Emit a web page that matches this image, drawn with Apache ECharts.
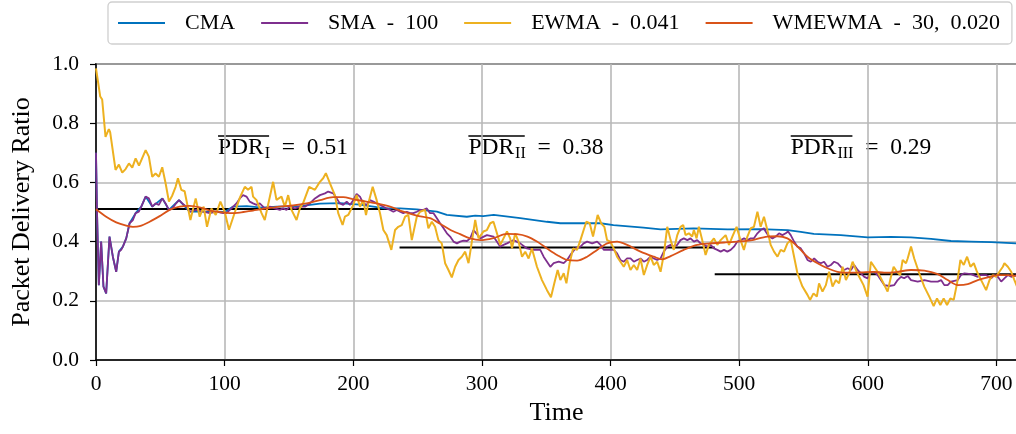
<!DOCTYPE html>
<html><head><meta charset="utf-8">
<script src="https://cdn.jsdelivr.net/npm/echarts@6/dist/echarts.min.js"></script>
<style>html,body{margin:0;padding:0;background:#fff}#c{width:1016px;height:434px}</style>
</head><body><div id="c"></div>
<script>
const seriesNames = ['CMA', 'SMA\u2002-\u2002100', 'EWMA\u2002-\u20020.041', 'WMEWMA\u2002-\u200230,\u20020.020'];
const seriesColors = ['#0072BD', '#7E2F8E', '#EDB120', '#D95319'];

const cma = [[0,0.7],[0.8,0.5],[2.2,0.253],[4,0.4],[5.8,0.248],[7.9,0.225],[10.5,0.417],[13.1,0.349],[15.7,0.298],[17.8,0.366],[20.9,0.383],[23.5,0.411],[26.1,0.462],[30.8,0.496],[35.2,0.518],[38.6,0.552],[43.8,0.518],[51.6,0.546],[56.7,0.507],[64.5,0.54],[72.8,0.501],[83.2,0.501],[93.6,0.501],[100,0.5],[106.3,0.518],[117.2,0.52],[128.9,0.515],[140.6,0.518],[158.5,0.52],[174.1,0.528],[189.6,0.53],[205.2,0.525],[224.7,0.512],[236.4,0.512],[249.4,0.509],[265,0.501],[272.7,0.49],[288.3,0.484],[294.8,0.488],[301,0.486],[309.2,0.49],[329.8,0.479],[350.6,0.467],[361,0.462],[392.1,0.462],[402.3,0.456],[425.6,0.447],[438.9,0.441],[464.6,0.445],[491,0.441],[516.7,0.442],[537.8,0.439],[547.9,0.433],[558,0.426],[579,0.422],[600,0.414],[618,0.416],[633.6,0.414],[649.2,0.409],[664.7,0.402],[680.3,0.4],[695.9,0.398],[716,0.394]];

const sma = [[0,0.7],[0.8,0.5],[2.2,0.253],[4,0.4],[5.8,0.248],[7.9,0.225],[10.5,0.417],[13.1,0.349],[15.7,0.298],[17.8,0.366],[19.6,0.372],[20.9,0.383],[23.5,0.411],[26.1,0.462],[28.7,0.473],[30.8,0.496],[33.3,0.501],[35.2,0.518],[38.6,0.552],[41.1,0.546],[43.8,0.518],[46.3,0.529],[48.9,0.524],[51.6,0.546],[54.1,0.529],[56.7,0.507],[59.3,0.512],[61.9,0.527],[64.5,0.54],[67.1,0.529],[70.2,0.518],[72.8,0.501],[78,0.507],[83.2,0.501],[88.4,0.496],[93.6,0.501],[98.8,0.496],
[101.4,0.496],[105.3,0.512],[109.2,0.529],[111.8,0.546],[114.3,0.557],[117,0.552],[119.5,0.535],[122.1,0.529],[124.8,0.524],[127.3,0.529],[131.2,0.512],[135.1,0.518],[139,0.512],[142.9,0.507],[145.5,0.512],[148.1,0.507],[150.7,0.518],[154.6,0.512],[158.5,0.518],[162.4,0.518],[166.3,0.529],[170.2,0.546],[174.1,0.557],[178,0.563],[180.5,0.569],[184.4,0.563],[187.1,0.546],[189.6,0.529],[192.2,0.524],[194.9,0.535],[197.4,0.524],[200,0.54],[202.6,0.561],
[205.2,0.552],[207.8,0.529],[210.4,0.524],[213,0.54],[215.6,0.535],[218.2,0.529],[220.8,0.524],[223.4,0.518],[226,0.512],[228.6,0.507],[231.2,0.501],[233.8,0.507],[236.4,0.501],[238.9,0.496],[241.6,0.501],[244.2,0.496],[246.7,0.496],[249.4,0.501],[251.9,0.507],[254.6,0.507],[257.2,0.512],[259.7,0.496],[262.4,0.496],[265,0.479],[267.5,0.462],[270.2,0.445],[272.8,0.428],[275.3,0.417],[277.9,0.4],[280.6,0.394],[283.1,0.4],[285.7,0.403],[288.4,0.402],[290.9,0.411],[293.5,0.439],[295.6,0.428],[298.7,0.411],
[303.9,0.422],[309,0.417],[314.3,0.383],[316.8,0.389],[319.5,0.394],[324.6,0.405],[329.8,0.394],[335,0.377],[340.2,0.372],[345.4,0.372],[348,0.349],[350.6,0.332],[353.2,0.315],[355.8,0.327],[359.7,0.332],[363.6,0.327],[366.2,0.338],[368.8,0.355],[372.7,0.377],[376.6,0.383],[379.1,0.394],[381.8,0.4],[385.7,0.394],[389.6,0.4],[392.2,0.389],[394.7,0.372],[398.6,0.372],[402.5,0.372],[405.1,0.36],[407.7,0.338],[410.3,0.332],[412.9,0.343],[415.5,0.343],[418.1,0.332],[420.7,0.338],[423.3,0.343],[425.9,0.332],[428.5,0.338],[431.1,0.349],[433.6,0.343],[436.3,0.338],[438.9,0.343],[441.4,0.366],[444.1,0.383],[446.7,0.389],[449.2,0.383],[451.9,0.389],[454.4,0.405],[457,0.411],[459.7,0.405],[462.2,0.411],[464.8,0.4],[467.4,0.405],[470,0.394],[472.6,0.389],[475.2,0.383],[477.8,0.389],[480.4,0.377],[483,0.372],[485.6,0.366],[488.2,0.372],[490.8,0.366],[493.4,0.372],[496,0.383],[498.6,0.4],[501.2,0.405],[503.8,0.411],[506.4,0.405],[509,0.411],[511.5,0.411],[514.2,0.428],[516.7,0.439],[519.3,0.445],[520.6,0.434],[523.2,0.417],[525.9,0.411],[528.4,0.417],[531,0.428],[533.6,0.422],[536.2,0.428],[538,0.434],[540.1,0.422],[542.7,0.4],[545.3,0.383],[547.9,0.377],[550.5,0.36],[553.1,0.338],[555.7,0.332],[558.3,0.343],[560.9,0.332],[563.5,0.327],[566,0.332],[568.7,0.315],[571.3,0.321],[573.9,0.332],[576.5,0.327],[579.1,0.315],[581.6,0.304],[584.3,0.31],[586.9,0.304],[589.4,0.321],[592.1,0.304],[594.7,0.293],[597.3,0.281],[599.9,0.276],[602.4,0.298],[605,0.298],[607.6,0.287],[610.2,0.27],[612.8,0.253],[616.7,0.25],[620.6,0.253],[623.2,0.27],[625.8,0.281],[628.3,0.276],[631,0.284],[633.6,0.27],[638.8,0.265],[644,0.27],[649.2,0.265],[654.4,0.265],[657,0.27],[659.5,0.253],[662.1,0.253],[664.7,0.265],[669.9,0.27],[672.5,0.287],[675.1,0.293],[680.3,0.29],[685.5,0.281],[688.1,0.287],[692,0.287],[695.9,0.276],[698.4,0.287],[701.1,0.281],[703.7,0.265],[706.2,0.276],[708.9,0.287],[711.5,0.281],[716,0.287]];

const ewma = [[0,0.985],[3.3,0.89],[4.8,0.88],[7.4,0.754],[10,0.78],[11,0.77],[15.2,0.642],[17.8,0.66],[20.4,0.633],[23,0.645],[25.6,0.664],[28.2,0.65],[30.8,0.681],[33.4,0.657],[38.6,0.709],[41.1,0.687],[43.7,0.619],[46.3,0.63],[48.9,0.619],[51.5,0.651],[54.1,0.597],[56.7,0.535],[59.3,0.556],[61.9,0.585],[63.7,0.614],[66.3,0.575],[68.9,0.57],[73.4,0.473],[77.5,0.546],[80.6,0.484],[83.7,0.518],[86.3,0.45],[89.7,0.512],[93.1,0.49],[96.7,0.535],[100.1,0.5],[103.4,0.44],[108,0.5],[112,0.55],
[115.7,0.585],[118.2,0.575],[120.9,0.585],[122.1,0.552],[124.8,0.54],[128.7,0.496],[131.2,0.473],[137.7,0.602],[140.3,0.541],[144.2,0.552],[146.8,0.518],[149.4,0.557],[152,0.507],[155.9,0.473],[158.5,0.513],[161,0.53],[165.7,0.585],[170.2,0.575],[174.1,0.602],[176.6,0.614],[178.7,0.631],[181.9,0.597],[185.7,0.557],[188.3,0.496],[191.7,0.456],[193.5,0.484],[196.1,0.49],[200,0.524],[202.6,0.557],
[205.2,0.518],[207.8,0.54],[209.9,0.49],[211.7,0.529],[215.1,0.585],[218.2,0.54],[220.8,0.496],[223.4,0.439],[226,0.422],[229.6,0.372],[232.5,0.439],[235,0.45],[237.7,0.456],[240.3,0.484],[242.8,0.49],[245.5,0.405],[249.4,0.484],[251.9,0.501],[255.8,0.507],[258.4,0.445],[261.1,0.467],[263.6,0.45],[266.2,0.405],[268.8,0.394],[271.4,0.327],[274,0.304],[276.6,0.279],[279.2,0.315],[281.8,0.338],[284.4,0.349],[287,0.366],[289.6,0.327],[292.2,0.4],[294.8,0.473],[297.4,0.411],[301.2,0.434],
[303.9,0.439],[306.5,0.462],[309,0.467],[311.7,0.428],[314.3,0.389],[316.8,0.411],[319.5,0.434],[322,0.411],[323.4,0.377],[325.9,0.428],[328.5,0.4],[331.2,0.349],[333.7,0.366],[336.3,0.343],[338.9,0.377],[342.8,0.315],[346.7,0.27],[350.6,0.236],[353.7,0.212],[356.3,0.259],[358.9,0.304],[361,0.27],[363.6,0.293],[365.7,0.259],[368.2,0.327],[370.9,0.377],[374,0.372],[376.6,0.405],[379.1,0.439],[381.2,0.467],[383.8,0.462],[386.4,0.417],[390,0.49],[392.7,0.462],[395.2,0.45],[397.3,0.405],[399.9,0.4],[402.5,0.377],[405.1,0.349],
[407.7,0.332],[410.3,0.315],[412.9,0.338],[415.5,0.304],[418.1,0.321],[420.7,0.304],[423.3,0.343],[425.9,0.287],[428.5,0.321],[431.1,0.349],[433.6,0.321],[436.3,0.332],[438.9,0.298],[441.4,0.355],[444.1,0.45],[446.7,0.405],[449.2,0.372],[451.9,0.422],[454.4,0.45],[456.5,0.456],[458.3,0.422],[460.9,0.428],[463.5,0.417],[464.8,0.439],[466.9,0.411],[468.7,0.45],[471.3,0.405],[473.9,0.355],[476.5,0.389],[480.4,0.411],[483,0.389],[485.6,0.405],[489.5,0.422],[492.1,0.389],[494.7,0.417],[498,0.45],[500.6,0.411],
[503.7,0.372],[506.4,0.417],[509,0.445],[511.5,0.45],[514.2,0.501],[516.7,0.45],[519.3,0.484],[521.9,0.439],[524.5,0.389],[527.1,0.366],[529.8,0.349],[532.3,0.372],[534.9,0.366],[537.5,0.394],[540.1,0.405],[542.7,0.349],[545.3,0.293],[549.2,0.248],[553.1,0.22],[555.1,0.203],[557.8,0.225],[560.4,0.214],[562.1,0.259],[564.8,0.231],[567.4,0.253],[569.9,0.298],[572.6,0.248],[575.2,0.27],[577.7,0.259],[580.4,0.315],[583,0.27],[585.5,0.293],[588.2,0.332],[590.8,0.304],[593.3,0.281],[596.7,0.253],[599.8,0.214],[602.4,0.332],
[605,0.315],[607.6,0.298],[611.5,0.265],[615.4,0.231],[618,0.281],[620.1,0.315],[622.7,0.298],[625.2,0.287],[627.1,0.338],[629.7,0.327],[631,0.343],[633.6,0.383],[636.1,0.343],[640,0.293],[643.9,0.248],[647.8,0.214],[651.2,0.182],[653.8,0.208],[656.4,0.186],[659,0.208],[661.6,0.186],[664.2,0.208],[666.8,0.203],[669.4,0.259],[672,0.338],[674.6,0.321],[677.2,0.349],[679.8,0.315],[682.4,0.327],[684.9,0.298],[686.8,0.281],[689.4,0.259],[692,0.236],[694.6,0.27],[697.2,0.287],[699.8,0.281],[702.3,0.298],[705,0.315],[706.2,0.327],[708.9,0.315],[711.5,0.298],[714,0.27],[716,0.248]];

const wmewma = [[0,0.509],[7.9,0.484],[15.7,0.465],[23.5,0.454],[28.7,0.45],[33.9,0.452],[41.7,0.467],[49.5,0.486],[57.2,0.507],[65,0.518],[72.8,0.521],[80.6,0.516],[88.4,0.505],[96.2,0.5],[104,0.496],[111.8,0.498],[122.1,0.505],[132.5,0.512],[142.9,0.518],[153.3,0.522],[163.7,0.529],[174.1,0.54],[184.4,0.55],[192.2,0.55],[200,0.543],[207.8,0.537],[218.2,0.529],[228.6,0.518],[238.9,0.501],[249.4,0.488],[259.7,0.479],[267.5,0.46],[275.3,0.44],[283.1,0.425],[290.9,0.411],[298.7,0.405],[309,0.412],[319.5,0.426],[327.3,0.425],[335.4,0.417],[342.8,0.4],[350.6,0.377],[358.4,0.355],[366.2,0.338],[374,0.336],[381.8,0.349],[389.6,0.372],[397.4,0.394],[405.1,0.4],[412.9,0.389],[423.3,0.366],[433.6,0.349],[440.2,0.34],[446.7,0.351],[457,0.372],[467.4,0.389],[477.8,0.394],[488.2,0.397],[498.6,0.4],[509,0.404],[521.9,0.417],[529.7,0.418],[537.5,0.411],[542.7,0.394],[547.9,0.372],[553.1,0.349],[560.9,0.327],[568.7,0.31],[576.5,0.298],[584.3,0.295],[594.6,0.296],[605,0.298],[612.7,0.295],[623.2,0.298],[633.6,0.304],[644,0.302],[654.4,0.29],[662.2,0.27],[670,0.253],[677.7,0.256],[685.5,0.27],[693.3,0.279],[701.1,0.287],[708.9,0.287],[716,0.284]];

const pdrMeans = [0.51, 0.38, 0.29];
const pdrBounds = [0, 236, 481, 716];
const pdrSubs = ['I', 'II', 'III'];
const pdrTexts = ['0.51', '0.38', '0.29'];
const xTicks = [0, 100, 200, 300, 400, 500, 600, 700];
const yTicks = [0.0, 0.2, 0.4, 0.6, 0.8, 1.0];

const FONT = '"Liberation Serif", "Times New Roman", serif';
const chart = echarts.init(document.getElementById('c'), null, {renderer: 'canvas'});

const mainData = [cma, sma, ewma, wmewma];
const series = [];
for (let i = 0; i < 3; i++) {
  series.push({
    type: 'line', name: 'mean' + i,
    data: [[pdrBounds[i], pdrMeans[i]], [pdrBounds[i + 1], pdrMeans[i]]],
    symbol: 'none', showSymbol: false, silent: true, z: 1,
    lineStyle: {color: '#000', width: 2}, animation: false
  });
}
mainData.forEach((d, i) => {
  series.push({
    type: 'line', name: seriesNames[i], data: d,
    symbol: 'none', showSymbol: false, z: 2,
    smooth: (i === 3) ? 0.3 : false,
    lineStyle: {color: seriesColors[i], width: i === 2 ? 2 : 1.8},
    itemStyle: {color: seriesColors[i]}, animation: false
  });
});

// annotations (text with overline)
const mctx = document.createElement('canvas').getContext('2d');
function measure(t, size) { mctx.font = size + 'px ' + FONT; return mctx.measureText(t).width; }
const annCenters = [283, 536, 861];
const annY = 147.5;
const graphics = [];
pdrSubs.forEach((sub, i) => {
  const bigSize = 23.5, smallSize = 16;
  const wP = measure('PDR', bigSize);
  const wS = measure(sub, smallSize);
  const rest = '\u2002=\u2002' + pdrTexts[i];
  const wR = measure(rest, bigSize);
  const total = wP + 1 + wS + wR;
  const x0 = annCenters[i] - total / 2;
  graphics.push({type: 'text', x: x0, y: annY, style: {text: 'PDR', font: bigSize + 'px ' + FONT, fill: '#000', align: 'left', verticalAlign: 'middle'}});
  graphics.push({type: 'text', x: x0 + wP + 1, y: annY + 6, style: {text: sub, font: smallSize + 'px ' + FONT, fill: '#000', align: 'left', verticalAlign: 'middle'}});
  graphics.push({type: 'text', x: x0 + wP + 1 + wS, y: annY, style: {text: rest, font: bigSize + 'px ' + FONT, fill: '#000', align: 'left', verticalAlign: 'middle'}});
  graphics.push({type: 'line', shape: {x1: x0, y1: annY - 11.5, x2: x0 + wP + wS, y2: annY - 11.5}, style: {stroke: '#000', lineWidth: 1.3}});
});

chart.setOption({
  backgroundColor: '#fff',
  animation: false,
  textStyle: {fontFamily: FONT},
  grid: {left: 96, right: -1, top: 64, bottom: 74, show: true, borderColor: '#000', borderWidth: 1.5, outerBoundsMode: 'none', containLabel: false},
  legend: {
    data: seriesNames, top: 2, left: 108,
    padding: [10, 12, 10, 10], borderColor: '#cfcfcf', borderWidth: 1.3, borderRadius: 4,
    icon: 'rect', itemWidth: 47, itemHeight: 2.2, itemGap: 26,
    textStyle: {fontFamily: FONT, fontSize: 22, color: '#000', padding: [0, 0, 0, 15]}
  },
  xAxis: {
    type: 'value', min: 0, max: 716, interval: 100,
    name: 'Time', nameLocation: 'middle', nameGap: 40,
    nameTextStyle: {fontFamily: FONT, fontSize: 26, color: '#000'},
    axisLine: {show: true, lineStyle: {color: '#000', width: 1.5}},
    axisTick: {show: true, length: 6, lineStyle: {color: '#000', width: 1.2}},
    axisLabel: {margin: 13, fontFamily: FONT, fontSize: 21.5, color: '#000', showMaxLabel: false,
      formatter: v => (xTicks.indexOf(v) >= 0 ? String(v) : '')},
    splitLine: {show: true, lineStyle: {color: '#b8b8b8', width: 1.6}}
  },
  yAxis: {
    type: 'value', min: 0, max: 1, interval: 0.2,
    name: 'Packet Delivery Ratio', nameLocation: 'middle', nameGap: 61,
    nameTextStyle: {fontFamily: FONT, fontSize: 26, color: '#000'},
    axisLine: {show: true, lineStyle: {color: '#000', width: 1.5}},
    axisTick: {show: true, length: 6, lineStyle: {color: '#000', width: 1.2}},
    axisLabel: {margin: 17, fontFamily: FONT, fontSize: 21.5, color: '#000',
      formatter: v => yTicks.some(t => Math.abs(t - v) < 1e-9) ? v.toFixed(1) : ''},
    splitLine: {show: true, lineStyle: {color: '#b8b8b8', width: 1.6}}
  },
  series: series,
  graphic: graphics
});
</script>
</body></html>
